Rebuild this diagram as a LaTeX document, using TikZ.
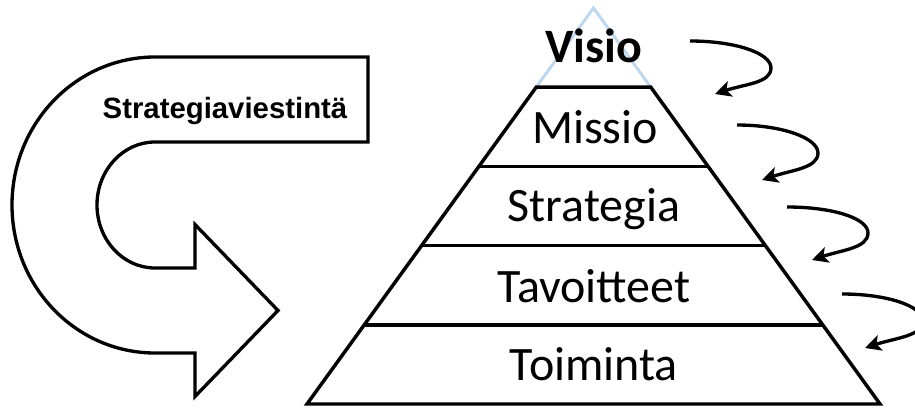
\documentclass[tikz,border=0pt]{standalone}
\usepackage{fontspec}
\setmainfont{Carlito}
\newfontfamily\arialfont{Liberation Sans}
\usetikzlibrary{calc,arrows.meta}
\definecolor{apexblue}{RGB}{189,215,238}

\tikzset{
  level/.style={font=\fontsize{36}{43}\selectfont, anchor=base, inner sep=0pt},
  edge/.style={line width=2.6pt},
  turn/.style={line width=2.5pt, -{Stealth[length=12pt,width=12pt,inset=3pt]}},
}

\begin{document}
\begin{tikzpicture}[x=0.75pt,y=0.75pt]
      \useasboundingbox (0,0) rectangle (915,408);

      \coordinate (apex) at (593.5,400);
      \coordinate (bl) at (307,4);
      \coordinate (br) at (880,4);

      % pyramid
      \draw[apexblue,line width=2.2pt] ($(apex)!0.2!(bl)$) -- (apex) -- ($(apex)!0.2!(br)$);
      \draw[edge] ($(apex)!0.2!(br)$) -- ($(apex)!0.2!(bl)$) -- (bl) -- (br) -- cycle;
      \draw[edge] ($(apex)!0.4!(bl)$) -- ($(apex)!0.4!(br)$);
      \draw[edge] ($(apex)!0.6!(bl)$) -- ($(apex)!0.6!(br)$);
      \draw[edge] ($(apex)!0.8!(bl)$) -- ($(apex)!0.8!(br)$);

      \node[level] (visio) at (594,345) {\bfseries Visio};
      \node[level] (missio) at (595,265) {Missio};
      \node[level] (strategia) at (594,187) {Strategia};
      \node[level] (tavoitteet) at (594,106) {Tavoitteet};
      \node[level] (toiminta) at (594,28) {Toiminta};

      % big u-turn arrow
      \draw[line width=2.5pt] (368,351) -- (155,351)
        arc[start angle=90, end angle=270, x radius=143, y radius=148]
        -- (195,55) -- (195,11.5) -- (278,97.5) -- (195,183.5) -- (195,140) -- (155,140)
        arc[start angle=270, end angle=90, x radius=58, y radius=63]
        -- (368,266) -- cycle;
      \node[font=\arialfont\bfseries\fontsize{22}{26}\selectfont, anchor=base] (viestinta) at (225,290) {Strategiaviestintä};

      % small turn arrows
      \coordinate (s1) at (690,367);
      \coordinate (t1) at (715,314);
      \coordinate (s2) at (737,283);
      \coordinate (t2) at (762,228);
      \coordinate (s3) at (787,201);
      \coordinate (t3) at (812,148);
      \coordinate (s4) at (842,114);
      \coordinate (t4) at (865,60);

      \draw[turn] (s1) .. controls +(45,0) and +(0,15) .. ++(81,-27) .. controls +(0,-15) and +(30,10) .. (t1);
      \draw[turn] (s2) .. controls +(45,0) and +(0,15) .. ++(81,-28) .. controls +(0,-15) and +(30,10) .. (t2);
      \draw[turn] (s3) .. controls +(45,0) and +(0,15) .. ++(81,-26) .. controls +(0,-15) and +(30,10) .. (t3);
      \draw[turn] (s4) .. controls +(45,0) and +(0,15) .. ++(81,-27) .. controls +(0,-15) and +(30,10) .. (t4);
    \end{tikzpicture}
\end{document}
